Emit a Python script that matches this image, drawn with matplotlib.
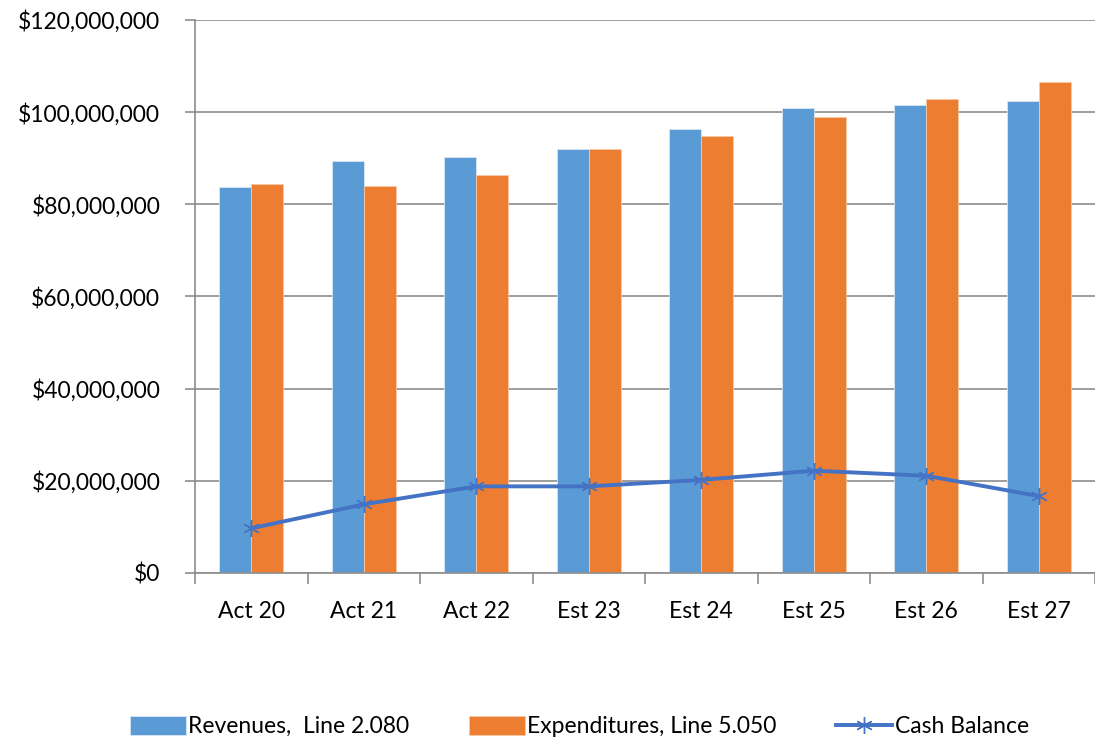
import numpy as np
import matplotlib.pyplot as plt
from matplotlib.ticker import FuncFormatter

# datos (millones de dolares)
categories = ['Act 20', 'Act 21', 'Act 22', 'Est 23', 'Est 24', 'Est 25', 'Est 26', 'Est 27']
revenues = [83.8, 89.3, 90.2, 91.9, 96.4, 101.0, 101.6, 102.4]
expenditures = [84.5, 84.0, 86.3, 91.9, 94.9, 99.0, 102.8, 106.6]
cash_balance = [9.7, 14.9, 18.8, 18.8, 20.2, 22.2, 21.1, 16.7]
y_ticks = [0, 20, 40, 60, 80, 100, 120]

plt.rcParams['font.family'] = ['Lato', 'DejaVu Sans']
fs = 16.5

fig = plt.figure(figsize=(10.95, 7.38), dpi=100)
ax = fig.add_axes([195 / 1095, 165 / 738, 900 / 1095, 553 / 738])

x = np.arange(len(categories))
w = 0.285
b1 = ax.bar(x - w / 2, np.array(revenues) * 1e6, w, color='#5B9BD5', edgecolor='#D6E6F5', linewidth=0.6,
            label='Revenues,  Line 2.080', zorder=2)
b2 = ax.bar(x + w / 2, np.array(expenditures) * 1e6, w, color='#ED7D31', edgecolor='#F7C9A8', linewidth=0.6,
            label='Expenditures, Line 5.050', zorder=2)
l1, = ax.plot(x, np.array(cash_balance) * 1e6, color='#4472C4', linewidth=2.8, marker=(6, 2, 0),
              markersize=12, markeredgewidth=1.0, markeredgecolor='#4472C4', label='Cash Balance', zorder=3)

ax.set_ylim(0, 120e6)
ax.set_xlim(-0.5, 7.5 - 12 / 114)
ax.set_yticks([v * 1e6 for v in y_ticks])
ax.yaxis.set_major_formatter(FuncFormatter(lambda v, p: '${:,.0f}'.format(v)))
ax.grid(axis='y', color='#8C8C8C', linewidth=1.2, zorder=0)
ax.set_axisbelow(True)

ax.set_xticks(x)
ax.set_xticklabels(categories)
ax.set_xticks(np.arange(-0.5, 8, 1), minor=True)
ax.tick_params(axis='x', which='major', length=0, pad=20, labelsize=fs)
ax.tick_params(axis='x', which='minor', length=8, color='#8C8C8C', width=1.2)
ax.tick_params(axis='y', length=7, color='#8C8C8C', width=1.2, pad=18, labelsize=fs)

for s in ['top', 'right']:
    ax.spines[s].set_visible(False)
for s in ['left', 'bottom']:
    ax.spines[s].set_color('#8C8C8C')
    ax.spines[s].set_linewidth(1.2)

fig.legend(handles=[b1, b2, l1], loc='lower center', bbox_to_anchor=(0.529, -0.027), ncol=3, frameon=False,
           fontsize=fs, handlelength=2.45, handleheight=0.9, columnspacing=2.6, handletextpad=0.1)

fig.savefig('out.png', dpi=100)
